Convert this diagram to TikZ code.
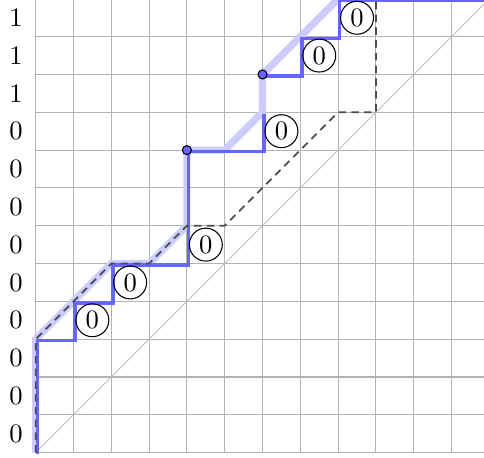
\documentclass[tikz,border=0pt]{standalone}
\begin{document}
\begin{tikzpicture}[x=0.5cm,y=0.5cm,
  gridline/.style={gray!60, line width=0.4pt},
  diag/.style={gray!50, line width=0.3pt},
  lightpath/.style={blue!20, line width=2.7pt, line join=miter},
  darkpath/.style={blue!60, line width=1.25pt, xshift=0.6pt, yshift=-0.6pt},
  dashpath/.style={black!70, line width=0.65pt, dash pattern=on 2.8pt off 2pt},
  dotmark/.style={circle, fill=blue!60, draw=black, line width=0.4pt, inner sep=0pt, minimum size=3.4pt},
  zero/.style={circle, draw, line width=0.4pt, inner sep=1.4pt},
  lab/.style={inner sep=0pt}]
\useasboundingbox (-0.943,-0.12) rectangle (11.857,11.97);
% grid and diagonal
\draw[gridline, step=0.5cm] (0,0) grid (12,12);
\draw[diag] (0,0) -- (12,12);
% light path
\draw[lightpath] (0,0) -- (0,3) -- (2,5) -- (3,5) -- (4,6) -- (4,8) -- (5,8) -- (6,9) -- (6,10) -- (8,12);
% dark path
\draw[darkpath] (0,0) -- (0,3) -- (1,3) -- (1,4) -- (2,4) -- (2,5) -- (4,5) -- (4,8) -- (6,8) -- (6,9);
\draw[darkpath] (6,10) -- (7,10) -- (7,11) -- (8,11) -- (8,12) -- (12,12);
% dashed path
\draw[dashpath] (0,0) -- (0,3) -- (2,5) -- (3,5) -- (4,6) -- (5,6) -- (8,9) -- (9,9) -- (9,12);
% dots
\node[dotmark] (d1) at (4,8) {};
\node[dotmark] (d2) at (6,10) {};
% circled zeros
\node[zero] (z1) at (1.5,3.5) {0};
\node[zero] (z2) at (2.5,4.5) {0};
\node[zero] (z3) at (4.5,5.5) {0};
\node[zero] (z4) at (6.5,8.5) {0};
\node[zero] (z5) at (7.5,10.5) {0};
\node[zero] (z6) at (8.5,11.5) {0};
% left labels
\foreach \v [count=\i from 0] in {0,0,0,0,0,0,0,0,0,1,1,1}
  \node[lab] (l\i) at (-0.52,\i+0.5) {\v};
\end{tikzpicture}
\end{document}
